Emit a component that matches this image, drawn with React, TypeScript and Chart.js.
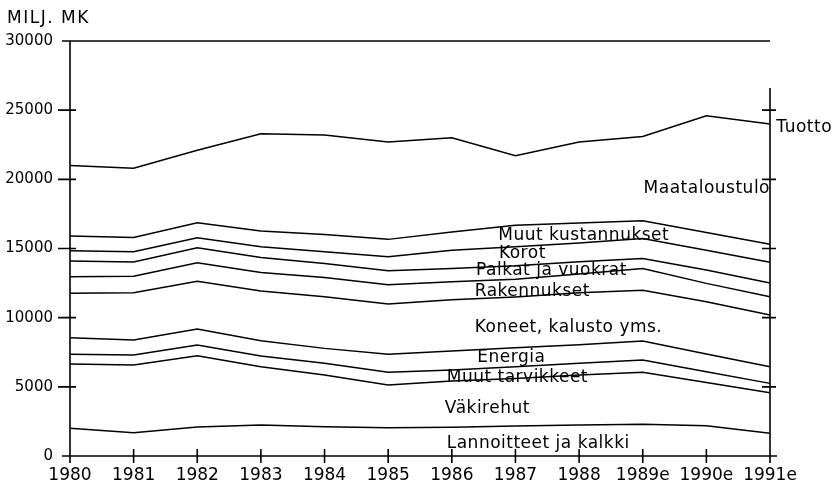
import React, { useEffect, useRef } from 'react';
import { Chart, registerables } from 'chart.js';

Chart.register(...registerables);

// Categories (years)
const years = ['1980', '1981', '1982', '1983', '1984', '1985', '1986', '1987', '1988', '1989e', '1990e', '1991e'];

// Cumulative levels (milj. mk), bottom to top
const lannoitteet = [2000, 1680, 2100, 2240, 2120, 2050, 2070, 2170, 2240, 2290, 2190, 1640];
const vakirehut = [6650, 6580, 7250, 6450, 5850, 5130, 5420, 5610, 5850, 6050, 5320, 4570];
const muutTarvikkeet = [7350, 7300, 8020, 7230, 6700, 6050, 6210, 6450, 6700, 6940, 6090, 5250];
const energia = [8550, 8380, 9180, 8330, 7780, 7350, 7590, 7830, 8050, 8310, 7370, 6450];
const koneet = [11760, 11800, 12640, 11920, 11510, 10980, 11300, 11500, 11800, 11990, 11150, 10190];
const rakennukset = [12950, 13000, 13970, 13270, 12910, 12380, 12600, 12770, 13150, 13560, 12480, 11510];
const palkat = [14090, 14020, 15050, 14350, 13920, 13390, 13560, 13750, 14050, 14280, 13440, 12500];
const korot = [14830, 14760, 15770, 15120, 14760, 14400, 14880, 15120, 15400, 15730, 14880, 14000];
const muutKustannukset = [15900, 15800, 16860, 16260, 16020, 15660, 16200, 16680, 16850, 17000, 16160, 15300];
const tuotto = [21000, 20800, 22100, 23300, 23200, 22700, 23000, 21700, 22700, 23100, 24600, 24000];

// Y-axis ticks
const yMin = 0;
const yMax = 30000;
const yStep = 5000;
const rightAxisTop = 26600;

const seriesNames = [
  'Lannoitteet ja kalkki', 'Väkirehut', 'Muut tarvikkeet', 'Energia', 'Koneet, kalusto yms.',
  'Rakennukset', 'Palkat ja vuokrat', 'Korot', 'Muut kustannukset', 'Tuotto',
];
const seriesValues = [
  lannoitteet, vakirehut, muutTarvikkeet, energia, koneet,
  rakennukset, palkat, korot, muutKustannukset, tuotto,
];

// In-chart labels, anchored in data space (category index, value)
const bandLabels: { text: string; x: number; y: number; align: CanvasTextAlign }[] = [
  { text: 'Tuotto', x: 11.1, y: 23400, align: 'left' },
  { text: 'Maataloustulo', x: 11, y: 19000, align: 'right' },
  { text: 'Muut kustannukset', x: 6.73, y: 15600, align: 'left' },
  { text: 'Korot', x: 6.74, y: 14300, align: 'left' },
  { text: 'Palkat ja vuokrat', x: 6.38, y: 13080, align: 'left' },
  { text: 'Rakennukset', x: 6.36, y: 11560, align: 'left' },
  { text: 'Koneet, kalusto yms.', x: 6.36, y: 8960, align: 'left' },
  { text: 'Energia', x: 6.4, y: 6760, align: 'left' },
  { text: 'Muut tarvikkeet', x: 5.92, y: 5380, align: 'left' },
  { text: 'Väkirehut', x: 5.89, y: 3100, align: 'left' },
  { text: 'Lannoitteet ja kalkki', x: 5.92, y: 580, align: 'left' },
];

const FONT = '"DejaVu Sans", sans-serif';

const framePlugin = {
  id: 'frame',
  afterDatasetsDraw(chart: any) {
    const { ctx, chartArea, scales } = chart;
    const { left, right, top, bottom } = chartArea;
    const x = scales.x;
    const y = scales.y;
    ctx.save();
    ctx.strokeStyle = '#000';
    ctx.lineWidth = 1.6;
    ctx.lineCap = 'butt';
    ctx.beginPath();
    // left axis
    ctx.moveTo(left, top);
    ctx.lineTo(left, bottom + 6);
    // top border
    ctx.moveTo(left - 8, top);
    ctx.lineTo(right, top);
    // bottom axis
    ctx.moveTo(left - 8, bottom);
    ctx.lineTo(right + 7, bottom);
    // right axis
    ctx.moveTo(right, y.getPixelForValue(rightAxisTop));
    ctx.lineTo(right, bottom + 6);
    // y ticks
    for (let v = yMin + yStep; v < yMax; v += yStep) {
      const py = y.getPixelForValue(v);
      ctx.moveTo(left - 12, py);
      ctx.lineTo(left + 6, py);
      ctx.moveTo(right - 8, py);
      ctx.lineTo(right + 6, py);
    }
    // x ticks
    for (let i = 0; i < years.length; i++) {
      const px = x.getPixelForValue(i);
      ctx.moveTo(px, bottom - 7);
      ctx.lineTo(px, bottom + 7);
    }
    ctx.stroke();

    // band labels
    ctx.fillStyle = '#000';
    ctx.font = `17px ${FONT}`;
    (ctx as any).letterSpacing = '0.5px';
    ctx.textBaseline = 'alphabetic';
    for (const l of bandLabels) {
      ctx.textAlign = l.align;
      ctx.fillText(l.text, x.getPixelForValue(l.x), y.getPixelForValue(l.y));
    }
    // unit label
    ctx.textAlign = 'left';
    (ctx as any).letterSpacing = '1.5px';
    ctx.fillText('MILJ. MK', 7, 23);
    (ctx as any).letterSpacing = '0px';
    ctx.restore();
  },
};

export default function App() {
  const ref = useRef<HTMLCanvasElement>(null);
  useEffect(() => {
    if (!ref.current) return;
    const chart = new Chart(ref.current, {
      type: 'line',
      data: {
        labels: years,
        datasets: seriesValues.map((vals, i) => ({
          label: seriesNames[i],
          data: vals,
          borderColor: '#000',
          borderWidth: 1.5,
          pointRadius: 0,
          tension: 0,
          fill: false,
        })),
      },
      options: {
        responsive: false,
        animation: false,
        layout: { padding: { left: 0, top: 41, right: 70, bottom: 0 } },
        plugins: { legend: { display: false }, tooltip: { enabled: false }, title: { display: false } },
        scales: {
          x: {
            type: 'category',
            offset: false,
            grid: { display: false, drawTicks: false },
            border: { display: false },
            ticks: {
              color: '#000',
              font: { family: FONT, size: 17 },
              padding: 9,
              maxRotation: 0,
              autoSkip: false,
            },
            afterFit: (s: any) => { s.height = 28; },
          },
          y: {
            min: yMin,
            max: yMax,
            grid: { display: false, drawTicks: false },
            border: { display: false },
            ticks: {
              stepSize: yStep,
              color: '#000',
              font: { family: FONT, size: 15 },
              padding: 17,
              callback: (v: any) => String(v),
            },
            afterFit: (s: any) => { s.width = 70; },
          },
        },
      },
      plugins: [framePlugin],
    });
    return () => chart.destroy();
  }, []);
  return (
    <div style={{ position: 'absolute', left: 0, top: 0, width: 840, height: 484, background: '#fff' }}>
      <canvas ref={ref} width={840} height={484} />
    </div>
  );
}
